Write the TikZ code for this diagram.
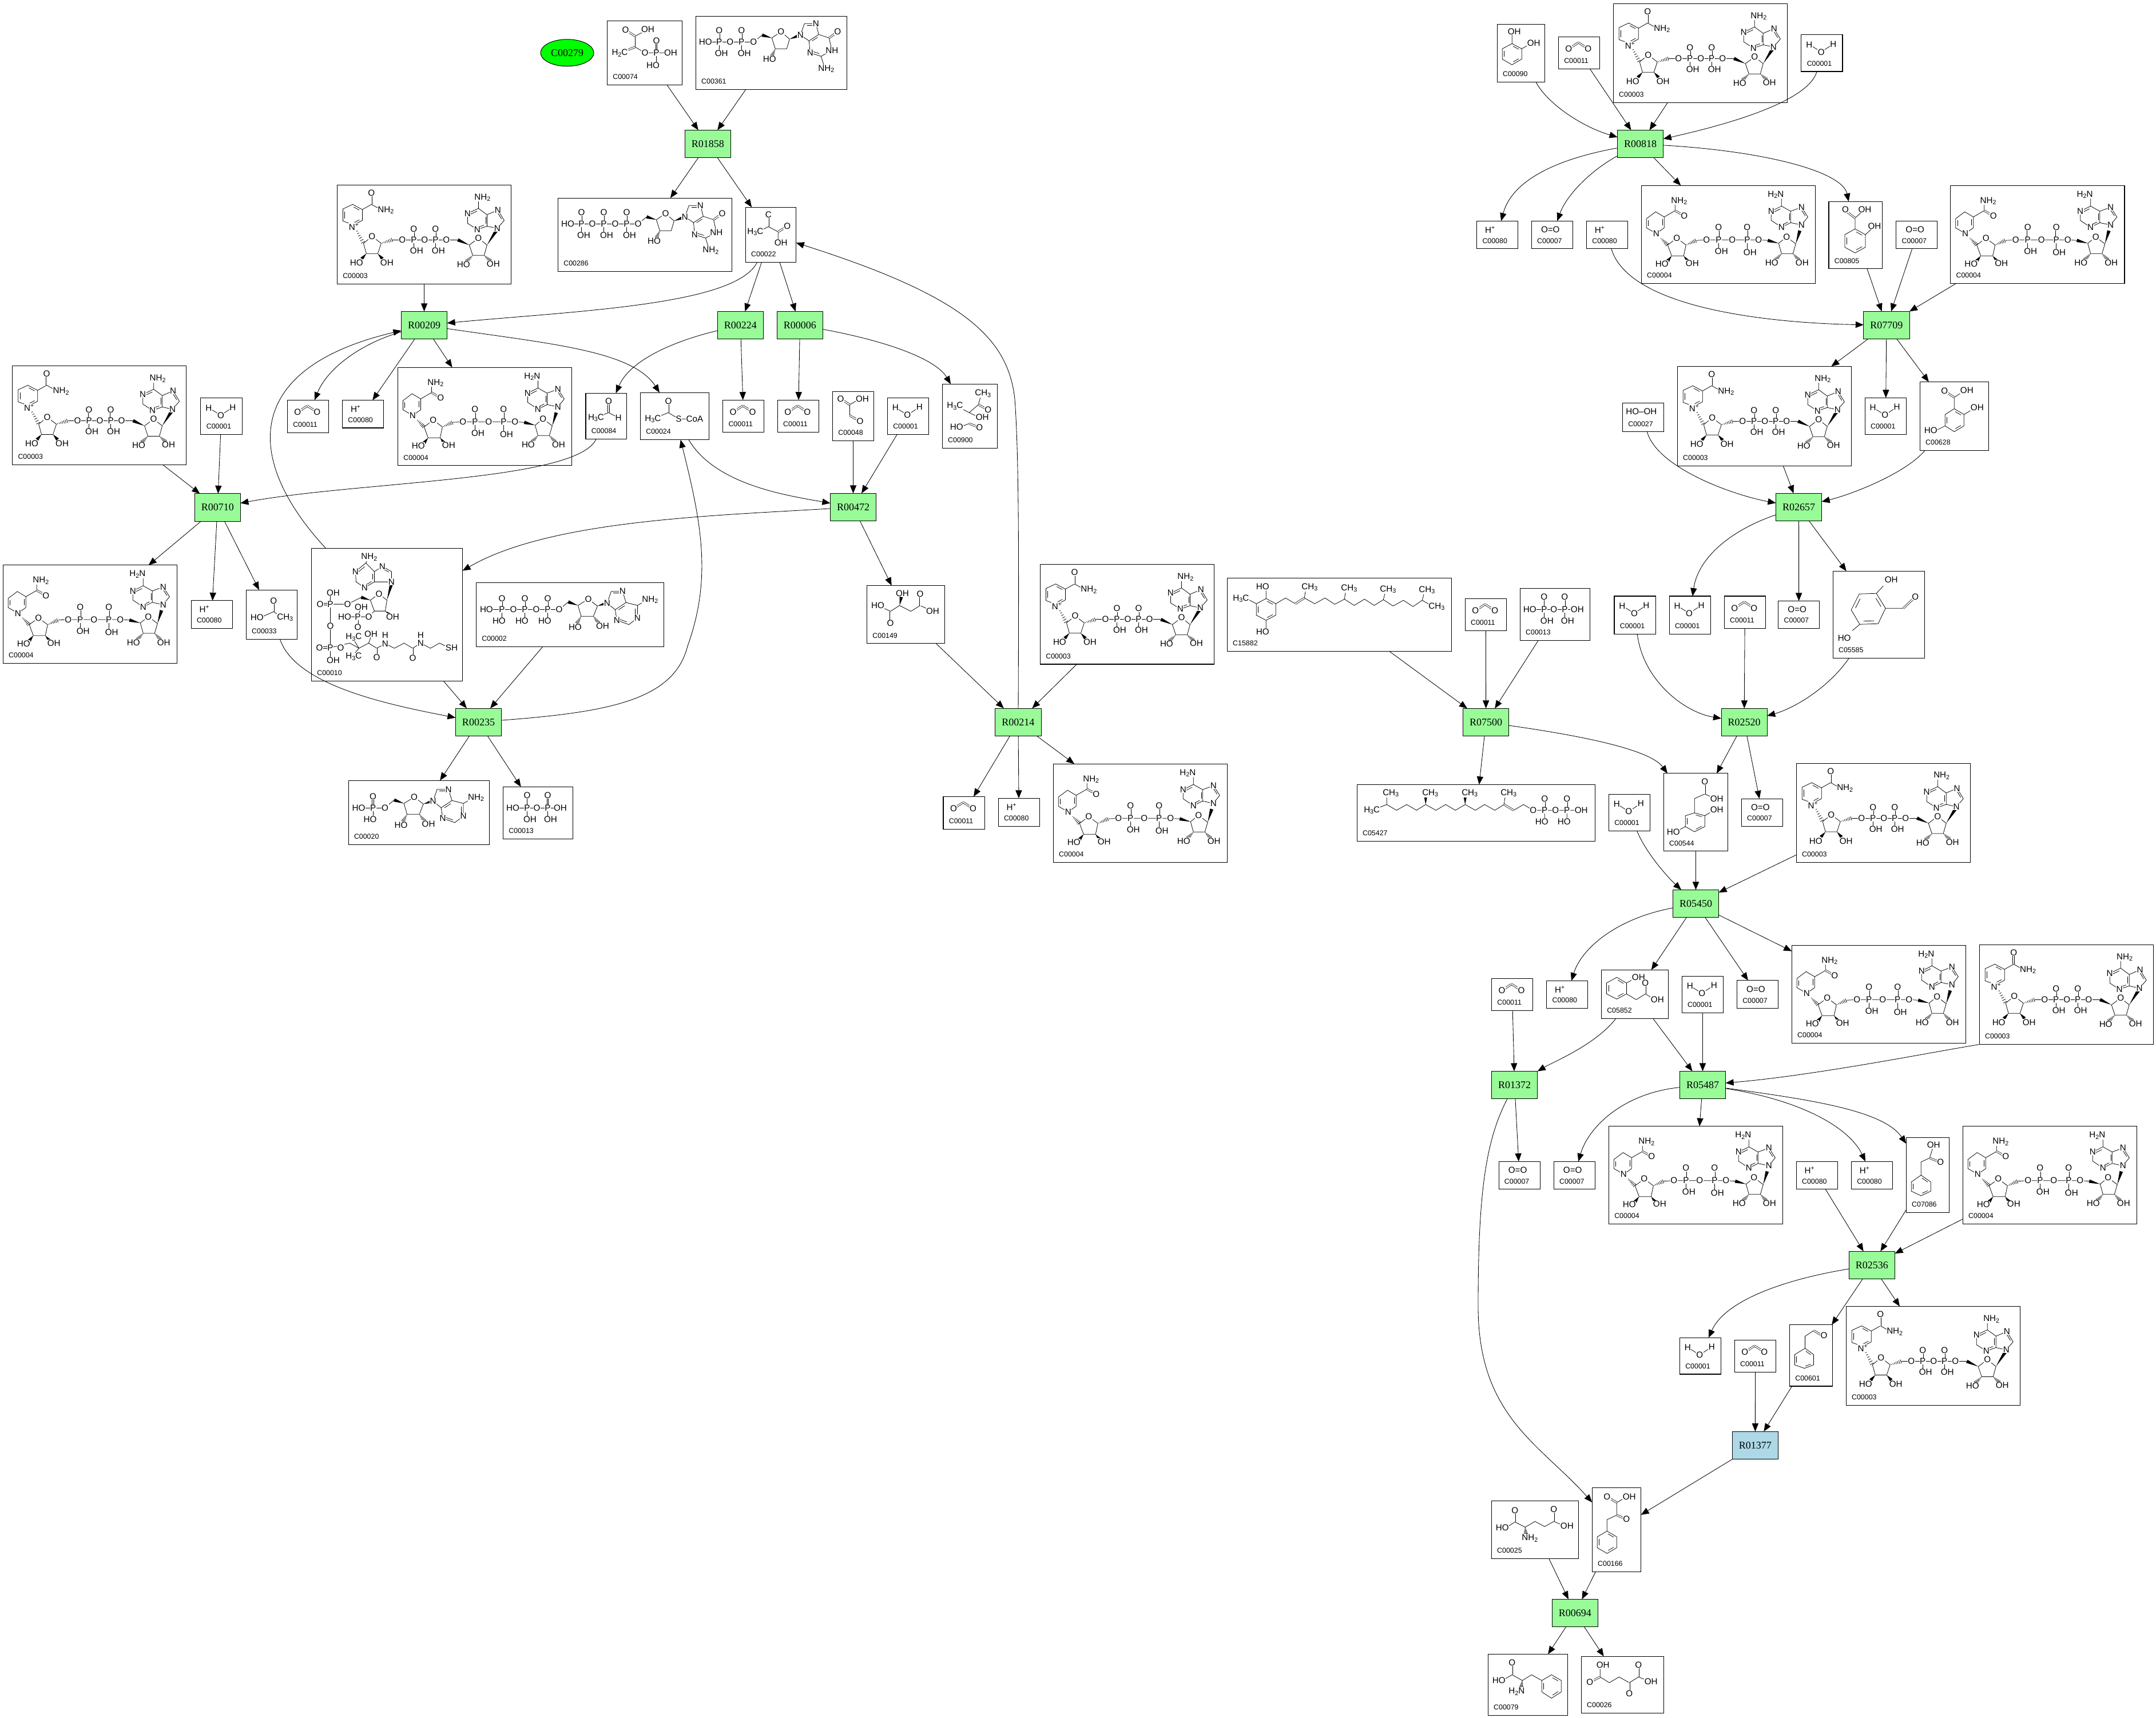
\documentclass[tikz,border=0pt]{standalone}
\usepackage{fontspec}
\setmainfont{Liberation Sans}
\newfontfamily\rfont{Liberation Serif}
\usetikzlibrary{calc,arrows.meta,shapes.geometric}
\definecolor{rgreen}{HTML}{98FB98}
\definecolor{rblue}{HTML}{ADD8E6}
\definecolor{cgreen}{HTML}{00FF00}
\tikzset{
 cbox/.style={draw=black,line width=.55pt,rectangle,inner sep=0pt,outer sep=0pt,fill=white},
 rbox/.style={draw=black,line width=.5pt,rectangle,inner sep=0pt,outer sep=0pt,minimum width=40.1pt,minimum height=24.1pt,font=\rfont\fontsize{9}{10}\selectfont},
 atom/.style={inner sep=.25pt,fill=white,font=\fontsize{7.6}{8}\selectfont},
 idl/.style={inner sep=0pt,anchor=west,font=\fontsize{6.2}{7}\selectfont},
 bond/.style={line width=.38pt,black},
 dbond/.style={line width=.36pt,double=white,double distance=.95pt,black},
 e/.style={line width=.42pt,black,-{Triangle[length=7pt,width=5.6pt]}},
}
\newcounter{atmc}
\def\atm(#1,#2)#3{\stepcounter{atmc}\node[atom] (a\theatmc) at (#1,#2) {#3};}
\newcommand\sbs[1]{\raisebox{-.35ex}{\fontsize{5.4}{6}\selectfont #1}}
\newcommand\sps[1]{\raisebox{.75ex}{\fontsize{5.2}{6}\selectfont #1}}
\newcommand\dbd[2]{\draw[dbond] #1 -- #2;}
\newcommand\rdb[3]{\draw[bond] ($($#1!.14!#2$)!.2!#3$) -- ($($#1!.86!#2$)!.2!#3$);}
\newcommand\wdg[2]{\fill[black] #1 -- ($#2!1.5pt!90:#1$) -- ($#2!1.5pt!-90:#1$) -- cycle;}
\newcommand\hsh[2]{\foreach \tq in {0.1,0.24,0.38,0.52,0.66,0.8,0.94}{\coordinate (hh) at ($#1!\tq!#2$);\pgfmathsetmacro\wq{1.7*\tq+.2}\draw[bond] ($(hh)!\wq pt!90:#2$) -- ($(hh)!\wq pt!-90:#2$);}}
\newcommand\cpd[7]{\pgfmathsetmacro\cw{(#4-#2)*1.20185}\pgfmathsetmacro\ch{(#5-#3)*1.20185}\node[cbox,minimum width=\cw pt,minimum height=\ch pt] (#1) at ({(#2+#4)/2},{(#3+#5)/2}) {};\begin{scope}[shift={(#2,#3)},x=.5pt,y=-.5pt]#6\pgfmathsetmacro\hh{(#5-#3)*2.4037-14}\stepcounter{atmc}\node[idl] (a\theatmc) at (9.5,\hh) {#7};\end{scope}}
\newcommand\rxn[3]{\node[rbox,fill=rgreen] (#1) at (#2,#3) {#1};}
% ---------- molecules (coordinates: full-size pixels from the box corner)
\newcommand\mNADp{%
\draw[bond] (10,42)--(27,34)--(44,43)--(44,62)--(29,70)--(10,63)--cycle;
\rdb{(10,42)}{(10,63)}{(27,52)}\rdb{(27,34)}{(44,43)}{(27,52)}\rdb{(44,62)}{(29,70)}{(27,52)}
\draw[bond] (44,43)--(60,34)--(78,44);\dbd{(60,34)}{(60,14)}
\hsh{(31,74)}{(46,102)}
\draw[bond] (46,102)--(61,90)--(77,102)--(71,120)--(51,120)--cycle;
\wdg{(51,120)}{(43,129)}\wdg{(71,120)}{(79,129)}
\hsh{(77,102)}{(97,96)}
\draw[bond] (97,96)--(114,96)--(134,96)--(153,96)--(172,96)--(191,96)--(211,96);
\dbd{(134,96)}{(134,77)}\dbd{(172,96)}{(172,77)}\draw[bond] (134,96)--(134,112) (172,96)--(172,112);
\wdg{(231,105)}{(211,96)}
\draw[bond] (231,105)--(247,93)--(262,105)--(257,123)--(237,123)--cycle;
\hsh{(237,123)}{(226,134)}\hsh{(257,123)}{(268,133)}
\wdg{(262,105)}{(278,80)}
\draw[bond] (280,76)--(292,62)--(281,44)--(262,52)--(262,72)--cycle (262,52)--(247,41)--(228,50)--(228,67)--(245,78)--(262,72) (247,41)--(247,28);
\rdb{(262,52)}{(262,72)}{(250,60)}\rdb{(292,62)}{(281,44)}{(275,60)}\rdb{(247,41)}{(228,50)}{(245,60)}\rdb{(245,78)}{(262,72)}{(245,60)}
\atm(60,14){O}\atm(85,44){NH\sbs{2}}\atm(29,73){N\sps{+}}\atm(61,90){O}\atm(34,136){HO}\atm(87,136){OH}
\atm(114,96){O}\atm(134,96){P}\atm(134,77){O}\atm(139,115){OH}\atm(153,96){O}\atm(172,96){P}\atm(172,77){O}\atm(177,115){OH}\atm(191,96){O}
\atm(247,93){O}\atm(221,139){HO}\atm(273,138){OH}\atm(280,76){N}\atm(281,44){N}\atm(228,50){N}\atm(245,78){N}\atm(254,22){NH\sbs{2}}}
\newcommand\mNADH{%
\draw[bond] (9,58)--(25,46)--(40,55)--(40,74)--(26,84)--(9,74)--cycle;
\rdb{(9,58)}{(9,74)}{(25,65)}\rdb{(40,55)}{(40,74)}{(25,65)}
\draw[bond] (40,55)--(59,44)--(59,32);\dbd{(59,44)}{(75,53)}
\hsh{(33,91)}{(46,104)}
\draw[bond] (46,104)--(62,92)--(78,104)--(74,123)--(53,123)--cycle;
\wdg{(53,123)}{(46,132)}\wdg{(74,123)}{(81,132)}
\hsh{(78,104)}{(96,96)}
\draw[bond] (96,96)--(114,95)--(135,95)--(159,95)--(185,95)--(205,95)--(221,96);
\dbd{(135,95)}{(135,73)}\dbd{(185,95)}{(185,73)}\draw[bond] (135,95)--(135,112) (185,95)--(185,113);
\wdg{(240,101)}{(221,96)}
\draw[bond] (240,101)--(254,90)--(270,102)--(265,119)--(245,119)--cycle;
\hsh{(245,119)}{(235,130)}\hsh{(265,119)}{(275,130)}
\wdg{(270,102)}{(277,79)}
\draw[bond] (280,69)--(291,55)--(280,38)--(261,45)--(261,65)--cycle (261,45)--(245,36)--(227,45)--(227,61)--(245,73)--(261,65) (245,36)--(245,23);
\rdb{(261,45)}{(261,65)}{(250,55)}\rdb{(291,55)}{(280,38)}{(275,55)}\rdb{(245,36)}{(227,45)}{(245,55)}\rdb{(245,73)}{(261,65)}{(245,55)}
\atm(66,27){NH\sbs{2}}\atm(75,53){O}\atm(26,84){N}\atm(62,92){O}\atm(36,137){HO}\atm(89,136){OH}
\atm(114,95){O}\atm(135,95){P}\atm(135,73){O}\atm(140,115){OH}\atm(159,95){O}\atm(185,95){P}\atm(185,73){O}\atm(190,117){OH}\atm(205,95){O}
\atm(254,90){O}\atm(228,135){HO}\atm(281,135){OH}\atm(280,69){N}\atm(280,38){N}\atm(227,45){N}\atm(245,73){N}\atm(235,16){H\sbs{2}N}}
\newcommand\mCOO{\dbd{(18,21)}{(35,10)}\dbd{(35,10)}{(52,21)}\atm(18,21){O}\atm(52,21){O}}
\newcommand\mWater{\draw[bond] (14,17)--(35,30)--(56,16);\atm(14,17){H}\atm(35,30){O}\atm(56,16){H}}
\newcommand\mHp{\atm(23,15){H\sps{+}}}
\newcommand\mOO{\atm(33,15){O=O}}
\newcommand\mPep{\draw[bond] (49,27)--(71,15) (49,27)--(49,46)--(66,56)--(111,56) (86,56)--(86,78);\dbd{(49,27)}{(32,16)}\dbd{(49,46)}{(30,53)}\dbd{(86,56)}{(86,35)}
\atm(32,16){O}\atm(71,15){OH}\atm(22,56){H\sbs{2}C}\atm(66,56){O}\atm(86,56){P}\atm(86,35){O}\atm(111,56){OH}\atm(80,78){HO}}
% deoxyguanosine part, anchored on the 5'-O at x=101
\newcommand\mDG{\draw[bond] (101,45)--(116,33);\wdg{(133,38)}{(116,33)}
\draw[bond] (133,38)--(149,27)--(164,40)--(159,57)--(139,57)--cycle;\hsh{(139,57)}{(133,70)}\wdg{(164,40)}{(180,34)}
\draw[bond] (183,33)--(190,13)--(210,13)--(215,32)--(198,43)--cycle (198,43)--(200,64)--(219,70)--(238,60)--(233,38)--(215,32) (219,70)--(224,86);
\rdb{(190,13)}{(210,13)}{(200,28)}\rdb{(215,32)}{(198,43)}{(215,50)}\rdb{(200,64)}{(219,70)}{(215,50)}\dbd{(233,38)}{(248,27)}
\atm(101,45){O}\atm(149,27){O}\atm(129,75){HO}\atm(183,33){N}\atm(210,13){N}\atm(200,64){N}\atm(238,60){NH}\atm(248,27){O}\atm(228,92){NH\sbs{2}}}
\newcommand\mGDP{\draw[bond] (17,45)--(101,45) (41,45)--(41,62) (80,45)--(80,62);\dbd{(41,45)}{(41,25)}\dbd{(80,45)}{(80,25)}
\mDG\atm(17,45){HO}\atm(41,45){P}\atm(41,25){O}\atm(45,65){OH}\atm(60,45){O}\atm(80,45){P}\atm(80,25){O}\atm(85,65){OH}}
\newcommand\mGTP{\draw[bond] (17,45)--(140,45) (41,45)--(41,62) (80,45)--(80,62) (120,45)--(120,62);\dbd{(41,45)}{(41,25)}\dbd{(80,45)}{(80,25)}\dbd{(120,45)}{(120,25)}
\begin{scope}[xshift=19.5pt]\mDG\end{scope}\atm(17,45){HO}\atm(41,45){P}\atm(41,25){O}\atm(45,65){OH}\atm(60,45){O}\atm(80,45){P}\atm(80,25){O}\atm(85,65){OH}\atm(100,45){O}\atm(120,45){P}\atm(120,25){O}\atm(125,65){OH}}
\newcommand\mPyr{\draw[bond] (40,34)--(26,41) (40,34)--(57,43)--(57,58);\dbd{(40,34)}{(40,17)}\dbd{(57,43)}{(73,33)}
\atm(40,13){C}\atm(17,43){H\sbs{3}C}\atm(73,33){O}\atm(62,62){OH}}
\newcommand\mAcetate{\draw[bond] (30,46)--(48,38)--(60,46);\dbd{(48,38)}{(48,21)}\atm(48,19){O}\atm(19,48){HO}\atm(68,48){CH\sbs{3}}}
\newcommand\mAcal{\draw[bond] (18,43)--(40,34)--(57,43);\dbd{(40,34)}{(40,14)}\atm(40,14){O}\atm(18,43){H\sbs{3}C}\atm(57,43){H}}
\newcommand\mAcCoA{\draw[bond] (22,46)--(49,35)--(67,46)--(80,46);\dbd{(49,35)}{(49,15)}\atm(49,15){O}\atm(22,46){H\sbs{3}C}\atm(67,46){S}\atm(95,46){CoA}}
\newcommand\mGlx{\draw[bond] (30,23)--(44,15) (30,23)--(30,42);\dbd{(30,23)}{(14,13)}\dbd{(30,42)}{(48,52)}\atm(14,13){O}\atm(52,13){OH}\atm(48,52){O}}
\newcommand\mNine{\draw[bond] (63,36)--(67,22) (63,36)--(47,50)--(32,42) (47,50)--(60,56) (47,69)--(34,74);\dbd{(63,36)}{(80,45)}\dbd{(47,69)}{(65,76)}
\atm(71,16){CH\sbs{3}}\atm(80,45){O}\atm(22,38){H\sbs{3}C}\atm(70,58){OH}\atm(25,75){HO}\atm(65,76){O}}
\newcommand\mMal{\draw[bond] (19,35)--(41,45)--(57,35)--(77,45)--(93,35)--(115,45);\wdg{(57,35)}{(60,20)}\dbd{(41,45)}{(41,66)}\dbd{(93,35)}{(93,15)}
\atm(62,14){OH}\atm(19,35){HO}\atm(41,66){O}\atm(93,15){O}\atm(115,45){OH}}
\newcommand\mPPi{\draw[bond] (17,37)--(100,37) (42,37)--(42,55) (78,37)--(78,55);\draw[bond] (42,37)--(42,15);\dbd{(78,37)}{(78,15)}
\atm(42,15){O}\atm(17,37){HO}\atm(42,37){P}\atm(47,57){OH}\atm(59,37){O}\atm(78,37){P}\atm(78,15){O}\atm(100,37){OH}\atm(83,57){OH}}
% adenosine, anchored for ATP coordinates
\newcommand\mAdo{\draw[bond] (145,47.5)--(161,34);\wdg{(178,40)}{(161,34)}
\draw[bond] (178,40)--(196,29)--(212,41)--(205,59)--(183.5,59)--cycle;\hsh{(183.5,59)}{(176,72)}\hsh{(205,59)}{(214,71)}\wdg{(212,41)}{(228,36)}
\draw[bond] (229,36)--(236,15.5)--(256,15.5)--(262,35)--(243,47.5)--cycle (243,47.5)--(246,66)--(267,73.5)--(282,62)--(282,40)--(262,35) (282,40)--(296,32);
\rdb{(236,15.5)}{(256,15.5)}{(245,30)}\rdb{(262,35)}{(243,47.5)}{(262,55)}\rdb{(246,66)}{(267,73.5)}{(262,55)}\rdb{(282,62)}{(282,40)}{(262,55)}
\atm(145,47.5){O}\atm(196,29){O}\atm(173,78){HO}\atm(221,76){OH}\atm(229,36){N}\atm(256,15.5){N}\atm(246,66){N}\atm(282,62){N}\atm(304,30){NH\sbs{2}}}
\newcommand\mATP{\draw[bond] (18,47.5)--(145,47.5) (45,47.5)--(45,65) (85,47.5)--(85,65) (125,47.5)--(125,65);\dbd{(45,47.5)}{(45,28)}\dbd{(85,47.5)}{(85,28)}\dbd{(125,47.5)}{(125,28)}
\mAdo\atm(18,47.5){HO}\atm(45,47.5){P}\atm(45,28){O}\atm(40,67.5){HO}\atm(65,47.5){O}\atm(85,47.5){P}\atm(85,28){O}\atm(80,67.5){HO}\atm(105,47.5){O}\atm(125,47.5){P}\atm(125,28){O}\atm(120,67.5){HO}}
\newcommand\mAMP{\draw[bond] (18,48)--(63,48) (43,48)--(43,65);\dbd{(43,48)}{(43,27.5)}
\begin{scope}[xshift=-40.5pt]\mAdo\end{scope}\atm(18,48){HO}\atm(43,48){P}\atm(43,27.5){O}\atm(38,68){HO}}
\newcommand\mCoA{\draw[bond] (95,26)--(77,41)--(78,59)--(93,69)--(110,59)--(110,41)--cycle (95,26)--(101,16) (110,41)--(124,32)--(140,41)--(140,59)--(110,59);
\rdb{(110,41)}{(110,59)}{(95,50)}\rdb{(95,26)}{(77,41)}{(95,50)}\rdb{(93,69)}{(110,59)}{(95,50)}\rdb{(124,32)}{(140,41)}{(125,50)}
\wdg{(132,91)}{(140,62)}\draw[bond] (132,91)--(118,80)--(103,91)--(110,110)--(129,110)--cycle (87,86)--(63,98)--(33,98)--(33,196) (33,174)--(67,166)--(83,175)--(100,166)--(114,175)--(129,167)--(145,175)--(162,166)--(177,175)--(191,166)--(208,175)--(224,166)--(240,174) (83,175)--(74,160) (83,175)--(74,186) (100,166)--(104,155) (110,110)--(100,120)--(81,120)--(58,120) (81,120)--(87,103) (33,78)--(33,98);
\wdg{(103,91)}{(87,86)}\wdg{(129,110)}{(140,118)}\dbd{(33,98)}{(15,98)}\dbd{(33,174)}{(14,174)}\dbd{(81,120)}{(81,138)}\dbd{(114,175)}{(114,191)}\dbd{(177,175)}{(177,192)}
\atm(101,16){NH\sbs{2}}\atm(77,41){N}\atm(93,69){N}\atm(124,32){N}\atm(140,59){N}\atm(118,80){O}\atm(142,120){OH}\atm(100,120){O}\atm(81,120){P}\atm(58,120){HO}\atm(87,103){OH}\atm(81,138){O}\atm(63,98){O}\atm(33,98){P}\atm(15,98){O}\atm(38,78){OH}\atm(33,136){O}\atm(33,174){P}\atm(14,174){O}\atm(38,196){OH}\atm(51,174){O}\atm(74,156){H\sbs{3}C}\atm(74,190){H\sbs{3}C}\atm(104,150){OH}\atm(114,191){O}\atm(129,167){N}\atm(129,152){H}\atm(177,192){O}\atm(191,166){N}\atm(191,152){H}\atm(245,174){SH}}
\newcommand\mTHQ{\draw[bond] (68,36)--(85,45)--(85,65)--(68,74)--(51,65)--(51,45)--cycle (68,36)--(68,22) (68,74)--(68,88) (51,45)--(34,36) (85,45)--(102,35)--(119,45) (135,35)--(153,45)--(171,35)--(188,46)--(205,37)--(222,48)--(240,37)--(257,48)--(273,38)--(290,49)--(308,39)--(325,50)--(341,39)--(356,48) (135,35)--(137,22) (205,37)--(207,24) (273,38)--(276,26) (341,39)--(344,27);
\rdb{(68,36)}{(85,45)}{(68,55)}\rdb{(85,65)}{(68,74)}{(68,55)}\rdb{(51,65)}{(51,45)}{(68,55)}\dbd{(119,45)}{(135,35)}
\atm(62,15){HO}\atm(24,36){H\sbs{3}C}\atm(62,94){HO}\atm(144,16){CH\sbs{3}}\atm(213,18){CH\sbs{3}}\atm(281,20){CH\sbs{3}}\atm(349,21){CH\sbs{3}}\atm(366,50){CH\sbs{3}}}
\newcommand\mPhyt{\draw[bond] (34,42)--(52,35)--(69,45)--(87,35)--(104,45)--(120,35)--(138,45)--(155,35)--(172,45)--(189,35)--(207,45)--(223,35)--(241,45)--(257,35) (274,45)--(291,35)--(308,45)--(392,45) (52,35)--(52,20) (257,35)--(259,20) (328,45)--(328,62) (367,45)--(367,62);
\wdg{(120,35)}{(120,20)}\wdg{(189,35)}{(189,20)}\dbd{(257,35)}{(274,45)}\dbd{(328,45)}{(328,25)}\dbd{(367,45)}{(367,25)}
\atm(26,45){H\sbs{3}C}\atm(59,15){CH\sbs{3}}\atm(128,15){CH\sbs{3}}\atm(197,15){CH\sbs{3}}\atm(265,15){CH\sbs{3}}\atm(308,45){O}\atm(328,45){P}\atm(328,25){O}\atm(323,65){HO}\atm(347,45){O}\atm(367,45){P}\atm(367,25){O}\atm(362,65){HO}\atm(392,45){OH}}
\newcommand\mHPA{\draw[bond] (27,13)--(44,23)--(44,42)--(27,51)--(9,42)--(9,23)--cycle (44,23)--(58,15) (44,42)--(61,52)--(77,42)--(90,50);\rdb{(27,13)}{(44,23)}{(27,32)}\rdb{(44,42)}{(27,51)}{(27,32)}\rdb{(9,42)}{(9,23)}{(27,32)}\dbd{(77,42)}{(77,23)}
\atm(65,13){OH}\atm(77,23){O}\atm(98,52){OH}}
\newcommand\mHGA{\draw[bond] (54,69)--(72,74)--(72,93)--(54,102)--(38,93)--(38,74)--cycle (54,69)--(54,44)--(72,36)--(85,42) (72,74)--(85,66) (38,93)--(25,100);\rdb{(54,69)}{(72,74)}{(55,85)}\rdb{(72,93)}{(54,102)}{(55,85)}\rdb{(38,93)}{(38,74)}{(55,85)}\dbd{(72,36)}{(72,14)}
\atm(72,14){O}\atm(93,44){OH}\atm(93,63){OH}\atm(17,102){HO}}
\newcommand\mCat{\draw[bond] (26,34)--(43,43)--(43,61)--(26,71)--(9,61)--(9,43)--cycle (26,34)--(26,18) (43,43)--(57,35);\rdb{(26,34)}{(43,43)}{(26,52)}\rdb{(43,61)}{(26,71)}{(26,52)}\rdb{(9,61)}{(9,43)}{(26,52)}
\atm(30,13){OH}\atm(64,33){OH}}
\newcommand\mSal{\draw[bond] (46,48)--(64,58)--(64,80)--(46,90)--(28,80)--(28,58)--cycle (46,48)--(46,29)--(58,18) (64,58)--(75,48);\rdb{(46,48)}{(64,58)}{(46,69)}\rdb{(64,80)}{(46,90)}{(46,69)}\rdb{(28,80)}{(28,58)}{(46,69)}\dbd{(46,29)}{(29,16)}
\atm(29,14){O}\atm(63,14){OH}\atm(80,43){OH}}
\newcommand\mGent{\draw[bond] (60,47)--(77,57)--(77,77)--(60,87)--(44,77)--(44,57)--cycle (60,47)--(60,27)--(74,18) (77,57)--(92,48) (44,77)--(30,84);\rdb{(60,47)}{(77,57)}{(60,67)}\rdb{(77,77)}{(60,87)}{(60,67)}\rdb{(44,77)}{(44,57)}{(60,67)}\dbd{(60,27)}{(43,16)}
\atm(43,16){O}\atm(82,15){OH}\atm(100,45){OH}\atm(19,85){HO}}
\newcommand\mGald{\draw[bond] (76,39)--(92,65)--(79,92)--(47,93)--(32,68)--(46,40)--cycle (76,39)--(88,26) (92,65)--(123,65) (47,93)--(34,104);\rdb{(76,39)}{(92,65)}{(62,66)}\rdb{(79,92)}{(47,93)}{(62,66)}\rdb{(32,68)}{(46,40)}{(62,66)}\dbd{(123,65)}{(140,49)}
\atm(102,15){OH}\atm(144,45){O}\atm(20,117){HO}}
\newcommand\mPAA{\draw[bond] (26,66)--(43,78)--(43,94)--(26,102)--(9,94)--(9,78)--cycle (26,66)--(26,43)--(41,36)--(46,20);\rdb{(26,66)}{(43,78)}{(26,85)}\rdb{(43,94)}{(26,102)}{(26,85)}\rdb{(9,94)}{(9,78)}{(26,85)}\dbd{(41,36)}{(58,43)}
\atm(48,13){OH}\atm(60,43){O}}
\newcommand\mPald{\draw[bond] (27,41)--(42,52)--(42,70)--(26,76)--(9,70)--(9,52)--cycle (27,41)--(27,20)--(42,10);\rdb{(27,41)}{(42,52)}{(26,60)}\rdb{(42,70)}{(26,76)}{(26,60)}\rdb{(9,70)}{(9,52)}{(26,60)}\dbd{(42,10)}{(56,18)}\atm(60,19){O}}
\newcommand\mGlu{\draw[bond] (41,37)--(30,44) (41,37)--(59,46)--(76,36)--(93,45)--(109,36)--(123,42);\hsh{(59,46)}{(60,58)}\dbd{(41,37)}{(41,17)}\dbd{(109,36)}{(109,15)}
\atm(41,17){O}\atm(19,47){HO}\atm(67,65){NH\sbs{2}}\atm(109,15){O}\atm(132,44){OH}}
\newcommand\mPPA{\draw[bond] (43,26)--(57,18) (43,26)--(43,48)--(26,56)--(26,76)--(43,86)--(43,105)--(26,115)--(9,105)--(9,86)--(26,76);\rdb{(26,76)}{(43,86)}{(26,95)}\rdb{(43,105)}{(26,115)}{(26,95)}\rdb{(9,105)}{(9,86)}{(26,95)}\dbd{(43,26)}{(26,16)}\dbd{(43,48)}{(60,55)}
\atm(26,16){O}\atm(65,16){OH}\atm(60,55){O}}
\newcommand\mPhe{\draw[bond] (42,36)--(30,43) (42,36)--(60,46)--(76,36)--(94,46) (94,46)--(111,36)--(128,46)--(128,66)--(111,77)--(94,66)--cycle;\rdb{(111,36)}{(128,46)}{(111,56)}\rdb{(128,66)}{(111,77)}{(111,56)}\rdb{(94,66)}{(94,46)}{(111,56)}\hsh{(60,46)}{(58,58)}\dbd{(42,36)}{(42,15)}
\atm(42,15){O}\atm(19,46){HO}\atm(50,65){H\sbs{2}N}}
\newcommand\mAkg{\draw[bond] (33,36)--(33,22) (33,36)--(49,46)--(66,36)--(84,46)--(100,36)--(115,42);\dbd{(33,36)}{(15,45)}\dbd{(84,46)}{(84,65)}\dbd{(100,36)}{(100,15)}
\atm(38,15){OH}\atm(15,45){O}\atm(84,65){O}\atm(100,15){O}\atm(122,44){OH}}
\begin{document}
\begin{tikzpicture}[x=1.20185pt,y=-1.20185pt]
\fill[white] (0,0) rectangle (1568,1249.3);
\useasboundingbox (0,0) rectangle (1568,1249.3);
\node[ellipse,draw=black,line width=.5pt,fill=cgreen,inner sep=0pt,minimum width=46.5pt,minimum height=23.5pt,font=\rfont\fontsize{9}{10}\selectfont] (C00279) at (412.5,38.4) {C00279};
% compounds, left network
\cpd{c074}{441.6}{15.1}{496.2}{61.7}{\mPep}{C00074}
\cpd{c361}{506}{11.8}{615.9}{65}{\mGDP}{C00361}
\cpd{c286}{405.8}{144}{532.4}{197.3}{\mGTP}{C00286}
\cpd{c022}{542.2}{150.7}{579}{190.8}{\mPyr}{C00022}
\cpd{c003t}{245.2}{134.5}{371.8}{206.5}{\mNADp}{C00003}
\cpd{c004m}{289.3}{267.2}{415.9}{338.6}{\mNADH}{C00004}
\cpd{c011m}{209}{291}{239}{314.6}{\mCOO}{C00011}
\cpd{c080m}{249}{291}{279}{311.2}{\mHp}{C00080}
\cpd{c003l}{9}{266}{135.6}{338}{\mNADp}{C00003}
\cpd{c001l}{146}{289.5}{176}{316}{\mWater}{C00001}
\cpd{c004l}{2.2}{411}{128.8}{482.3}{\mNADH}{C00004}
\cpd{c080l}{139}{436.8}{169}{457}{\mHp}{C00080}
\cpd{c033}{179}{429}{216}{465}{\mAcetate}{C00033}
\cpd{c010}{226.5}{398.6}{336.4}{495.2}{\mCoA}{C00010}
\cpd{c002}{346.3}{423.6}{482.8}{470.4}{\mATP}{C00002}
\cpd{c020}{253.4}{567.6}{355.9}{614.2}{\mAMP}{C00020}
\cpd{c013l}{365.9}{572.2}{416.6}{610}{\mPPi}{C00013}
\cpd{c084}{426}{285.9}{455.8}{319.2}{\mAcal}{C00084}
\cpd{c024}{465.7}{285.5}{515.7}{319.8}{\mAcCoA}{C00024}
\cpd{c011a}{525.7}{290.9}{555.7}{314.4}{\mCOO}{C00011}
\cpd{c011b}{565.5}{290.9}{595.6}{314.4}{\mCOO}{C00011}
\cpd{c048}{605.5}{284.7}{635.5}{320.6}{\mGlx}{C00048}
\cpd{c001m}{645.4}{289.3}{675.4}{316}{\mWater}{C00001}
\cpd{c900}{685.3}{279.3}{725.2}{326}{\mNine}{C00900}
\cpd{c149}{630.5}{425.8}{687.1}{468}{\mMal}{C00149}
\cpd{c003r}{756.5}{410.5}{883.1}{483}{\mNADp}{C00003}
\cpd{c011r}{686}{579.3}{716}{603}{\mCOO}{C00011}
\cpd{c080r}{726}{580.5}{756}{601}{\mHp}{C00080}
\cpd{c004r}{766}{555.5}{892.6}{627}{\mNADH}{C00004}
% compounds, right network
\cpd{c090}{1088.8}{17.6}{1123.4}{59.6}{\mCat}{C00090}
\cpd{c011t}{1133.4}{26.8}{1163.5}{50}{\mCOO}{C00011}
\cpd{c003u}{1173.3}{2.6}{1299.9}{74.6}{\mNADp}{C00003}
\cpd{c001u}{1310}{25.3}{1340}{52}{\mWater}{C00001}
\cpd{c080u}{1074}{160.7}{1104}{180.9}{\mHp}{C00080}
\cpd{c007u}{1113.8}{160.7}{1143.9}{180.9}{\mOO}{C00007}
\cpd{c080v}{1153.8}{160.7}{1183.9}{180.9}{\mHp}{C00080}
\cpd{c004u}{1193.7}{134.9}{1320.3}{206.2}{\mNADH}{C00004}
\cpd{c805}{1330}{146.5}{1369}{195.5}{\mSal}{C00805}
\cpd{c007v}{1379}{160.7}{1409}{180.9}{\mOO}{C00007}
\cpd{c004v}{1418.5}{134.9}{1545.1}{206.2}{\mNADH}{C00004}
\cpd{c003w}{1219.9}{266.4}{1346.5}{338.9}{\mNADp}{C00003}
\cpd{c001w}{1356.3}{289.3}{1386.5}{316}{\mWater}{C00001}
\cpd{c628}{1396.3}{277.7}{1446.4}{327.6}{\mGent}{C00628}
\cpd{c027}{1180}{293}{1210}{314}{\atm(33,15){HO--OH}}{C00027}
\cpd{c001x}{1174}{433.5}{1204}{461}{\mWater}{C00001}
\cpd{c001y}{1214}{433.5}{1244}{461}{\mWater}{C00001}
\cpd{c011x}{1254}{433.5}{1284}{457}{\mCOO}{C00011}
\cpd{c007x}{1293.3}{437}{1323.2}{456.9}{\mOO}{C00007}
\cpd{c585}{1333}{415.3}{1399.8}{478.7}{\mGald}{C05585}
\cpd{c882}{892.5}{420.3}{1055.7}{473.6}{\mTHQ}{C15882}
\cpd{c011z}{1065.5}{435.3}{1095.6}{458.7}{\mCOO}{C00011}
\cpd{c013z}{1105.5}{427.8}{1156.2}{465.7}{\mPPi}{C00013}
\cpd{c427}{986.9}{570.5}{1160.1}{611.7}{\mPhyt}{C05427}
\cpd{c544}{1209.9}{562.4}{1256.7}{619}{\mHGA}{C00544}
\cpd{c007y}{1266.5}{580.8}{1296.6}{601}{\mOO}{C00007}
\cpd{c003y}{1306.4}{555}{1433}{627}{\mNADp}{C00003}
\cpd{c001z}{1170}{577.6}{1200}{604.3}{\mWater}{C00001}
\cpd{c080z}{1124.8}{713.2}{1154.7}{733.3}{\mHp}{C00080}
\cpd{c852}{1164.6}{705.3}{1213.5}{740.8}{\mHPA}{C05852}
\cpd{c011q}{1084.8}{711.5}{1114.7}{734.8}{\mCOO}{C00011}
\cpd{c001q}{1223.2}{709.8}{1253.3}{736.4}{\mWater}{C00001}
\cpd{c007q}{1263.2}{713}{1293.3}{733.4}{\mOO}{C00007}
\cpd{c004q}{1303.1}{687.4}{1429.7}{758.5}{\mNADH}{C00004}
\cpd{c003q}{1439.5}{687}{1566.1}{759.5}{\mNADp}{C00003}
\cpd{c007p}{1090}{844.6}{1120}{864.8}{\mOO}{C00007}
\cpd{c007r}{1130}{844.6}{1160}{864.8}{\mOO}{C00007}
\cpd{c004p}{1170}{819}{1296.6}{889.9}{\mNADH}{C00004}
\cpd{c080p}{1306.4}{844.6}{1336.5}{864.8}{\mHp}{C00080}
\cpd{c080s}{1346.4}{844.6}{1376.5}{864.8}{\mHp}{C00080}
\cpd{c086}{1386.3}{827.1}{1417.7}{881.7}{\mPAA}{C07086}
\cpd{c004s}{1427.5}{819}{1554.1}{889.9}{\mNADH}{C00004}
\cpd{c001s}{1221.6}{972.8}{1251.7}{999.3}{\mWater}{C00001}
\cpd{c011s}{1261.5}{974.5}{1291.6}{997.9}{\mCOO}{C00011}
\cpd{c601}{1301.5}{963.4}{1332.8}{1008}{\mPald}{C00601}
\cpd{c003s}{1342.6}{950}{1469.2}{1022}{\mNADp}{C00003}
\cpd{c166}{1157.9}{1081.8}{1193.4}{1142.9}{\mPPA}{C00166}
\cpd{c025}{1084.7}{1091.4}{1148.1}{1133.4}{\mGlu}{C00025}
\cpd{c079}{1082.2}{1202.9}{1140.2}{1247.3}{\mPhe}{C00079}
\cpd{c026}{1150}{1204.5}{1210.1}{1245.7}{\mAkg}{C00026}
% reactions
\rxn{R01858}{514.8}{104.65}\rxn{R00209}{308.5}{236.5}\rxn{R00224}{538.5}{236.5}\rxn{R00006}{581.8}{236.5}
\rxn{R00710}{158.2}{369}\rxn{R00472}{620.5}{368.8}\rxn{R00235}{348}{525.1}\rxn{R00214}{740.5}{525.1}
\rxn{R00818}{1193}{104.65}\rxn{R07709}{1372}{236.5}\rxn{R02657}{1308.2}{368.8}\rxn{R02520}{1268.5}{525.2}
\rxn{R07500}{1080.7}{525.2}\rxn{R05450}{1233.3}{657.1}\rxn{R01372}{1101.5}{789}\rxn{R05487}{1238.3}{789}
\rxn{R02536}{1361.4}{920}\rxn{R00694}{1145.5}{1173}
\node[rbox,fill=rblue] (R01377) at (1276.5,1051) {R01377};
% connectors
\foreach \pa/\pb in {c074/R01858,c361/R01858,R01858/c286,R01858/c022,c003t/R00209,c022/R00224,c022/R00006,R00224/c011a,R00006/c011b,R00209/c080m,R00209/c004m,c003l/R00710,c001l/R00710,R00710/c004l,R00710/c080l,R00710/c033,c010/R00235,c002/R00235,R00235/c020,R00235/c013l,c048/R00472,c001m/R00472,R00472/c149,c003r/R00214,c149/R00214,R00214/c011r,R00214/c080r,R00214/c004r,
c011t/R00818,c003u/R00818,R00818/c004u,c805/R07709,c007v/R07709,c004v/R07709,R07709/c003w,R07709/c001w,R07709/c628,c003w/R02657,R02657/c007x,R02657/c585,c011x/R02520,R02520/c544,R02520/c007y,c882/R07500,c011z/R07500,c013z/R07500,R07500/c427,c544/R05450,c003y/R05450,R05450/c852,R05450/c007q,R05450/c004q,c011q/R01372,c852/R05487,c001q/R05487,R01372/c007p,R05487/c004p,c080p/R02536,c086/R02536,c004s/R02536,R02536/c601,R02536/c003s,c011s/R01377,c601/R01377,R01377/c166,c025/R00694,c166/R00694,R00694/c079,R00694/c026}
{\draw[e] (\pa) -- (\pb);}
\draw[e] (c022) .. controls (535,222) and (420,226) .. (R00209);
\draw[e] (R00224) .. controls (490,248) and (458,262) .. (c084);
\draw[e] (R00006) .. controls (640,247) and (680,260) .. (c900);
\draw[e] (R00209) .. controls (400,250) and (460,255) .. (c024);
\draw[e] (c010) .. controls (178,335) and (175,268) .. (R00209);
\draw[e] (R00209) .. controls (262,250) and (238,268) .. (c011m);
\draw[e] (c084) .. controls (420,350) and (260,350) .. (R00710);
\draw[e] (c033) .. controls (215,498) and (280,512) .. (R00235);
\draw[e] (R00472) .. controls (520,375) and (400,378) .. (c010);
\draw[e] (c024) .. controls (520,352) and (570,360) .. (R00472);
\coordinate (kn1) at (500,470);
\draw[e] (R00235) .. controls (440,518) and (490,510) .. (kn1) .. controls (518,420) and (510,380) .. (c024);
\coordinate (kn2) at (738,290);
\draw[e] (R00214) .. controls (741,400) and (741,330) .. (kn2) .. controls (733,245) and (700,215) .. (c022);
\draw[e] (c090) .. controls (1125,75) and (1150,92) .. (R00818);
\draw[e] (c001u) .. controls (1315,75) and (1250,92) .. (R00818);
\draw[e] (R00818) .. controls (1135,115) and (1100,130) .. (c080u);
\draw[e] (R00818) .. controls (1160,122) and (1140,140) .. (c007u);
\draw[e] (R00818) .. controls (1285,110) and (1340,125) .. (c805);
\draw[e] (c080v) .. controls (1185,225) and (1290,235) .. (R07709);
\draw[e] (c027) .. controls (1205,340) and (1260,360) .. (R02657);
\draw[e] (c628) .. controls (1385,345) and (1345,360) .. (R02657);
\draw[e] (R02657) .. controls (1260,385) and (1235,405) .. (c001y);
\draw[e] (c001x) .. controls (1195,495) and (1225,518) .. (R02520);
\draw[e] (c585) .. controls (1330,500) and (1305,515) .. (R02520);
\draw[e] (R07500) .. controls (1150,535) and (1200,545) .. (c544);
\draw[e] (c001z) .. controls (1197,620) and (1212,637) .. (R05450);
\draw[e] (R05450) .. controls (1175,668) and (1150,690) .. (c080z);
\draw[e] (c852) .. controls (1160,760) and (1130,772) .. (R01372);
\draw[e] (c003q.south west) .. controls (1400,766) and (1320,782) .. (R05487);
\coordinate (kn3) at (1075,950);
\draw[e] (R01372) .. controls (1080,830) and (1075,870) .. (kn3) .. controls (1075,1030) and (1120,1050) .. (c166);
\draw[e] (R05487) .. controls (1180,795) and (1155,820) .. (c007r);
\draw[e] (R05487) .. controls (1310,800) and (1345,820) .. (c080s);
\draw[e] (R05487) .. controls (1320,800) and (1370,808) .. (c086);
\draw[e] (R02536) .. controls (1300,930) and (1255,945) .. (c001s);
\end{tikzpicture}
\end{document}
